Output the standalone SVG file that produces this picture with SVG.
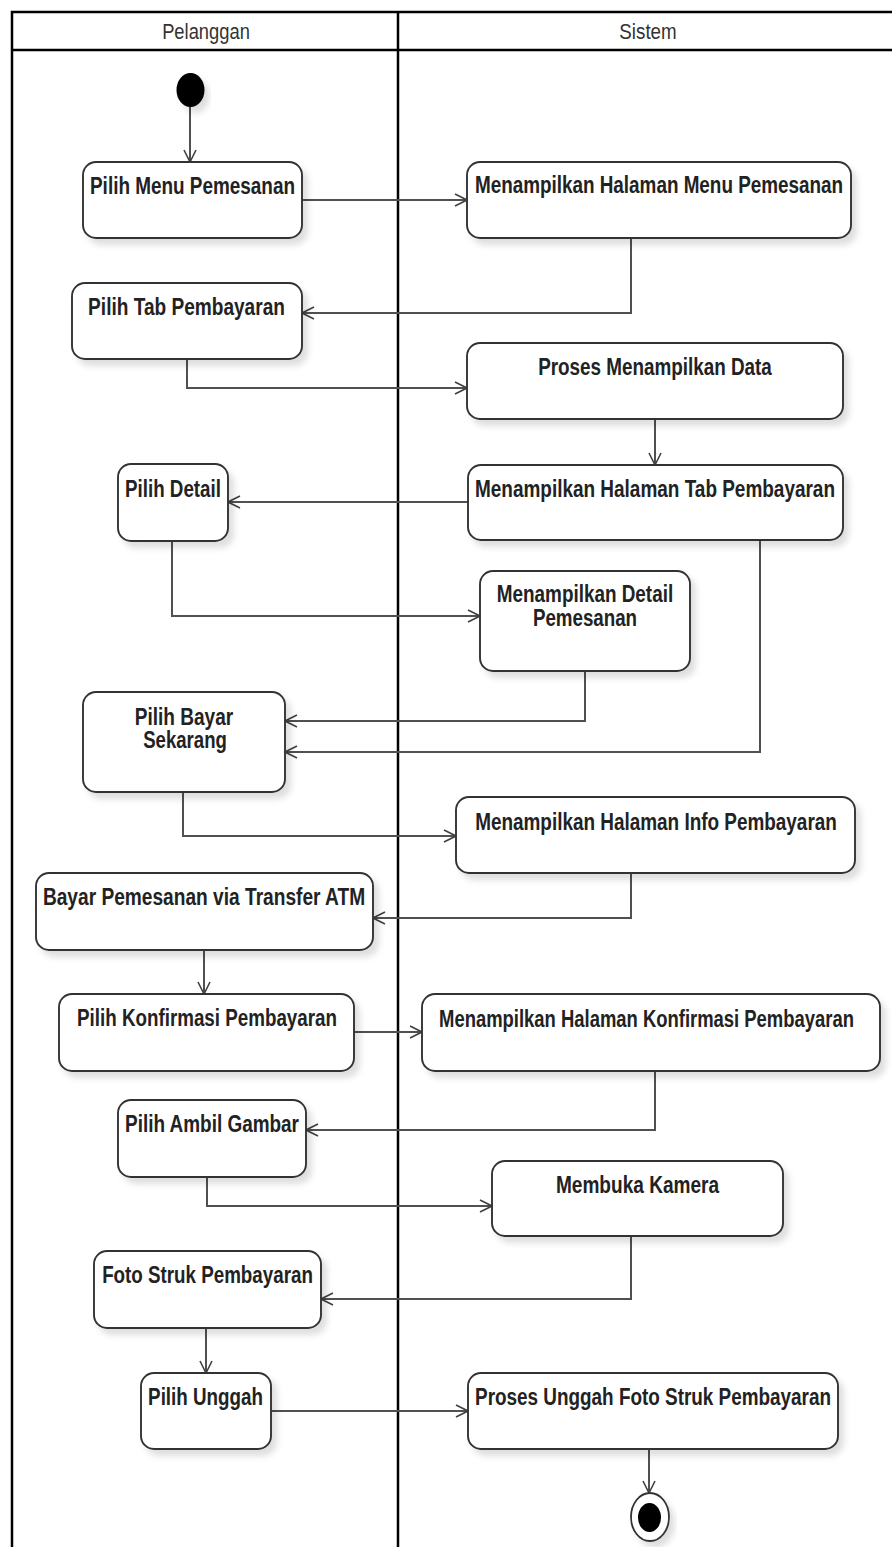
<svg xmlns="http://www.w3.org/2000/svg" width="892" height="1547" viewBox="0 0 892 1547">
  <defs>
    <style>
      .lane { fill: none; stroke: #000; stroke-width: 2.5; }
      .hdr { font-family: "Liberation Sans", Arial, sans-serif; font-size: 22px; fill: #333; text-anchor: middle; }
      .act rect { fill: #fff; stroke: #333; stroke-width: 1.9; filter: url(#shadow); }
      .act text { font-family: "Liberation Sans", Arial, sans-serif; font-size: 23px; font-weight: bold; fill: #222; text-anchor: middle; }
      .flow { fill: none; stroke: #505050; stroke-width: 2; marker-end: url(#open); }
    </style>
    <filter id="shadow" x="-10%" y="-10%" width="130%" height="140%">
      <feDropShadow dx="5" dy="6" stdDeviation="3" flood-color="#000" flood-opacity="0.13"/>
    </filter>
    <marker id="open" viewBox="0 0 14 14" refX="13" refY="7" markerWidth="14" markerHeight="14" markerUnits="userSpaceOnUse" orient="auto">
      <path d="M1,1 L13,7 L1,13" fill="none" stroke="#404040" stroke-width="1.6"/>
    </marker>
  </defs>
  <rect width="892" height="1547" fill="#fff"/>

  <!-- swimlane frame; labels are drawn in a condensed face (scaled 0.82 horizontally) -->
  <g id="swimlanes">
    <rect class="lane" x="12" y="12" width="900" height="1560"/>
    <line class="lane" x1="12" y1="50" x2="892" y2="50"/>
    <line class="lane" x1="398" y1="12" x2="398" y2="1547"/>
    <text class="hdr" transform="translate(206 39) scale(0.82 1)" textLength="107" lengthAdjust="spacingAndGlyphs">Pelanggan</text>
    <text class="hdr" transform="translate(648 39) scale(0.82 1)" textLength="70" lengthAdjust="spacingAndGlyphs">Sistem</text>
  </g>

  <!-- control flows -->
  <g id="connectors">
    <path class="flow" d="M190,107 V162"/>
    <path class="flow" d="M302,200 H467"/>
    <path class="flow" d="M631,238 V313 H302"/>
    <path class="flow" d="M187,359 V388 H467"/>
    <path class="flow" d="M655,419 V465"/>
    <path class="flow" d="M468,502 H228"/>
    <path class="flow" d="M172,541 V616 H480"/>
    <path class="flow" d="M585,671 V721 H285"/>
    <path class="flow" d="M760,540 V752 H285"/>
    <path class="flow" d="M183,792 V836 H456"/>
    <path class="flow" d="M631,873 V918 H373"/>
    <path class="flow" d="M204,950 V994"/>
    <path class="flow" d="M354,1032 H422"/>
    <path class="flow" d="M655,1071 V1130 H306"/>
    <path class="flow" d="M207,1177 V1206 H492"/>
    <path class="flow" d="M631,1236 V1299 H321"/>
    <path class="flow" d="M206,1328 V1373"/>
    <path class="flow" d="M271,1411 H468"/>
    <path class="flow" d="M649,1449 V1493"/>
  </g>

  <!-- start / end -->
  <g id="start">
    <ellipse cx="190.5" cy="90" rx="14" ry="17" fill="#000" filter="url(#shadow)"/>
  </g>
  <g id="end">
    <ellipse cx="650" cy="1517" rx="19" ry="24" fill="#fff" stroke="#333" stroke-width="1.8" filter="url(#shadow)"/>
    <ellipse cx="649.5" cy="1517.5" rx="11.5" ry="14.5" fill="#000"/>
  </g>

  <!-- Pelanggan activities -->
  <g id="pilih-menu-pemesanan" class="act">
    <rect x="83" y="162" width="219" height="76" rx="13"/>
    <text transform="translate(192.5 194) scale(0.82 1)" textLength="250" lengthAdjust="spacingAndGlyphs">Pilih Menu Pemesanan</text>
  </g>
  <g id="pilih-tab-pembayaran" class="act">
    <rect x="72" y="283" width="230" height="76" rx="13"/>
    <text transform="translate(186.5 315) scale(0.82 1)" textLength="240" lengthAdjust="spacingAndGlyphs">Pilih Tab Pembayaran</text>
  </g>
  <g id="pilih-detail" class="act">
    <rect x="118" y="464" width="110" height="77" rx="13"/>
    <text transform="translate(173 497) scale(0.82 1)" textLength="117" lengthAdjust="spacingAndGlyphs">Pilih Detail</text>
  </g>
  <g id="pilih-bayar-sekarang" class="act">
    <rect x="83" y="692" width="202" height="100" rx="13"/>
    <text transform="translate(184 725) scale(0.82 1)" textLength="120" lengthAdjust="spacingAndGlyphs">Pilih Bayar</text>
    <text transform="translate(185 748) scale(0.82 1)" textLength="102" lengthAdjust="spacingAndGlyphs">Sekarang</text>
  </g>
  <g id="bayar-pemesanan" class="act">
    <rect x="36" y="873" width="337" height="77" rx="13"/>
    <text transform="translate(204 905) scale(0.82 1)" textLength="393" lengthAdjust="spacingAndGlyphs">Bayar Pemesanan via Transfer ATM</text>
  </g>
  <g id="pilih-konfirmasi-pembayaran" class="act">
    <rect x="59" y="994" width="295" height="77" rx="13"/>
    <text transform="translate(207 1026) scale(0.82 1)" textLength="317" lengthAdjust="spacingAndGlyphs">Pilih Konfirmasi Pembayaran</text>
  </g>
  <g id="pilih-ambil-gambar" class="act">
    <rect x="118" y="1100" width="188" height="77" rx="13"/>
    <text transform="translate(212 1132) scale(0.82 1)" textLength="212" lengthAdjust="spacingAndGlyphs">Pilih Ambil Gambar</text>
  </g>
  <g id="foto-struk-pembayaran" class="act">
    <rect x="94" y="1251" width="227" height="77" rx="13"/>
    <text transform="translate(207.5 1283) scale(0.82 1)" textLength="257" lengthAdjust="spacingAndGlyphs">Foto Struk Pembayaran</text>
  </g>
  <g id="pilih-unggah" class="act">
    <rect x="141" y="1373" width="130" height="76" rx="13"/>
    <text transform="translate(205.5 1405) scale(0.82 1)" textLength="140" lengthAdjust="spacingAndGlyphs">Pilih Unggah</text>
  </g>

  <!-- Sistem activities -->
  <g id="tampil-menu-pemesanan" class="act">
    <rect x="467" y="162" width="384" height="76" rx="13"/>
    <text transform="translate(659 193) scale(0.82 1)" textLength="449" lengthAdjust="spacingAndGlyphs">Menampilkan Halaman Menu Pemesanan</text>
  </g>
  <g id="proses-tampil-data" class="act">
    <rect x="467" y="343" width="376" height="76" rx="13"/>
    <text transform="translate(655 375) scale(0.82 1)" textLength="285" lengthAdjust="spacingAndGlyphs">Proses Menampilkan Data</text>
  </g>
  <g id="tampil-tab-pembayaran" class="act">
    <rect x="468" y="465" width="375" height="75" rx="13"/>
    <text transform="translate(655 497) scale(0.82 1)" textLength="439" lengthAdjust="spacingAndGlyphs">Menampilkan Halaman Tab Pembayaran</text>
  </g>
  <g id="tampil-detail-pemesanan" class="act">
    <rect x="480" y="571" width="210" height="100" rx="13"/>
    <text transform="translate(585 602) scale(0.82 1)" textLength="215" lengthAdjust="spacingAndGlyphs">Menampilkan Detail</text>
    <text transform="translate(585 626) scale(0.82 1)" textLength="127" lengthAdjust="spacingAndGlyphs">Pemesanan</text>
  </g>
  <g id="tampil-info-pembayaran" class="act">
    <rect x="456" y="797" width="399" height="76" rx="13"/>
    <text transform="translate(656 830) scale(0.82 1)" textLength="441" lengthAdjust="spacingAndGlyphs">Menampilkan Halaman Info Pembayaran</text>
  </g>
  <g id="tampil-konfirmasi-pembayaran" class="act">
    <rect x="422" y="994" width="458" height="77" rx="13"/>
    <text transform="translate(646.5 1027) scale(0.82 1)" textLength="506" lengthAdjust="spacingAndGlyphs">Menampilkan Halaman Konfirmasi Pembayaran</text>
  </g>
  <g id="membuka-kamera" class="act">
    <rect x="492" y="1161" width="291" height="75" rx="13"/>
    <text transform="translate(637.5 1193) scale(0.82 1)" textLength="199" lengthAdjust="spacingAndGlyphs">Membuka Kamera</text>
  </g>
  <g id="proses-unggah-foto" class="act">
    <rect x="468" y="1373" width="370" height="76" rx="13"/>
    <text transform="translate(653 1405) scale(0.82 1)" textLength="434" lengthAdjust="spacingAndGlyphs">Proses Unggah Foto Struk Pembayaran</text>
  </g>
</svg>
